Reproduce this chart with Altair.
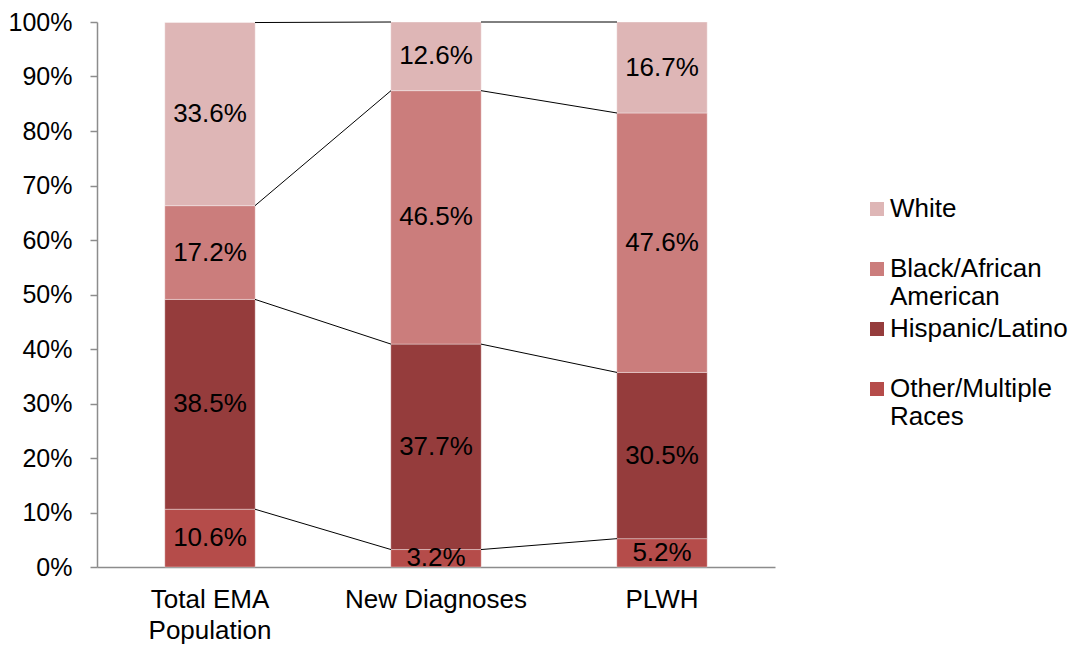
import altair as alt
import pandas as pd

categories = ["Total EMA\nPopulation", "New Diagnoses", "PLWH"]
groups = ["White", "Black/African American", "Hispanic/Latino", "Other/Multiple Races"]
colors = ["#DEB6B6", "#CB7D7C", "#953C3C", "#B54C4A"]
white = [33.6, 12.6, 16.7]
black = [17.2, 46.5, 47.6]
hispanic = [38.5, 37.7, 30.5]
other = [10.6, 3.2, 5.2]
y_ticks = [0, 10, 20, 30, 40, 50, 60, 70, 80, 90, 100]

FONT = "Arial, Liberation Sans, sans-serif"

# stacking bottom -> top
stack_order = [("Other/Multiple Races", other), ("Hispanic/Latino", hispanic),
               ("Black/African American", black), ("White", white)]

rows = []
cum = {c: 0.0 for c in categories}
tops = []
for g, vals in stack_order:
    level = []
    for c, v in zip(categories, vals):
        y0 = cum[c]
        y1 = y0 + v
        cum[c] = y1
        rows.append({"cat": c, "group": g, "y0": y0, "y1": y1,
                     "mid": (y0 + y1) / 2, "label": f"{v:.1f}%"})
        level.append(y1)
    tops.append(level)
df = pd.DataFrame(rows)

conn = []
for k, level in enumerate(tops):
    for i in range(len(categories) - 1):
        conn.append({"a": categories[i], "b": categories[i + 1],
                     "ya": min(level[i], 100), "yb": min(level[i + 1], 100)})
cdf = pd.DataFrame(conn)

xscale = alt.Scale(domain=categories, paddingInner=0.6, paddingOuter=0.3)

xenc = alt.X("cat:N", title=None, scale=xscale,
             axis=alt.Axis(labelExpr="split(datum.label, '\\n')", labelAngle=0,
                           labelFontSize=26, labelFont=FONT, labelColor="#000000",
                           labelPadding=19, labelLineHeight=31, labelLimit=400, ticks=False,
                           domainColor="#8c8c8c", domainWidth=1.5, grid=False))

legend_expr = ("datum.label == 'Black/African American' ? ['Black/African', 'American'] : "
               "datum.label == 'Other/Multiple Races' ? ['Other/Multiple', 'Races'] : "
               "[datum.label, '']")

bars = alt.Chart(df).mark_bar(stroke="#ffffff", strokeWidth=0.6, strokeOpacity=0.6).encode(
    x=xenc,
    y=alt.Y("y0:Q", title=None, scale=alt.Scale(domain=[0, 100], nice=False),
            axis=alt.Axis(values=y_ticks, labelExpr="datum.value + '%'", labelFontSize=25,
                          labelFont=FONT, labelColor="#000000", labelPadding=18,
                          tickSize=7, tickColor="#8c8c8c", tickWidth=1.5,
                          domainColor="#8c8c8c", domainWidth=1.5, grid=False)),
    y2="y1:Q",
    color=alt.Color("group:N", scale=alt.Scale(domain=groups, range=colors),
                    legend=alt.Legend(title=None, orient="none", legendX=767, legendY=174,
                                      symbolType="square", symbolSize=196,
                                      symbolStrokeWidth=0, labelFontSize=26,
                                      labelFont=FONT, labelColor="#000000",
                                      labelOffset=0, labelExpr=legend_expr,
                                      labelLimit=300, rowPadding=6)),
)

text = alt.Chart(df).mark_text(fontSize=26, font=FONT, color="#000000").encode(
    x=alt.X("cat:N", scale=xscale),
    y=alt.Y("mid:Q"),
    text="label:N",
)

lines = alt.Chart(cdf).mark_rule(color="#000000", strokeWidth=1, xOffset=45, x2Offset=-45).encode(
    x=alt.X("a:N", scale=xscale),
    x2="b:N",
    y="ya:Q",
    y2="yb:Q",
)

chart = alt.layer(bars, lines, text).properties(
    width=678, height=545,
    autosize=alt.AutoSizeParams(type="none"),
    padding={"left": 89, "top": 14, "right": 293, "bottom": 80},
).configure_view(stroke=None)

chart.save("out.html", embed_options={"renderer": "svg", "actions": False})
